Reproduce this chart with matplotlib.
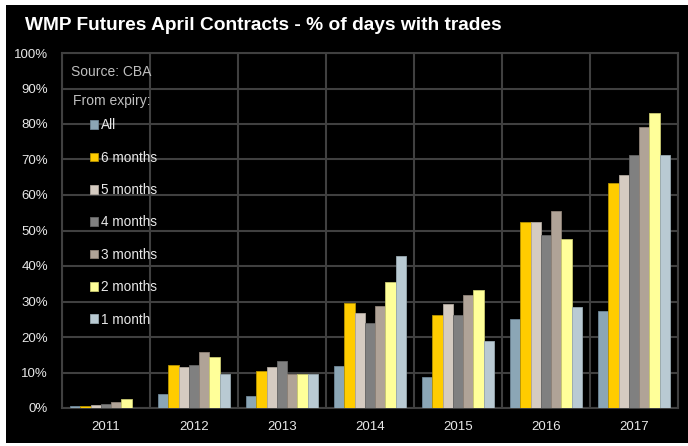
import numpy as np
import matplotlib.pyplot as plt
from matplotlib.patches import Rectangle
from matplotlib.ticker import MultipleLocator, FuncFormatter

plt.rcParams['font.family'] = ['Liberation Sans', 'DejaVu Sans']

# Data (% of days with trades)
years = ['2011', '2012', '2013', '2014', '2015', '2016', '2017']
series_names = ['All', '6 months', '5 months', '4 months', '3 months', '2 months', '1 month']
all_days = [0.5, 4.0, 3.3, 11.9, 8.8, 25.0, 27.2]
m6 = [0.7, 12.0, 10.3, 29.5, 26.1, 52.3, 63.3]
m5 = [0.8, 11.5, 11.5, 26.7, 29.4, 52.3, 65.5]
m4 = [1.2, 12.0, 13.2, 24.0, 26.1, 48.7, 71.3]
m3 = [1.6, 15.9, 9.5, 28.6, 31.7, 55.5, 79.2]
m2 = [2.4, 14.3, 9.5, 35.6, 33.2, 47.6, 83.2]
m1 = [0.0, 9.5, 9.5, 42.8, 19.0, 28.5, 71.3]

colors = ['#8BA6B6', '#FFCC00', '#D5CBC1', '#808080', '#B0A397', '#FFFF99', '#B9CAD3']
edges = ['#6F8797', '#B89400', '#B0A79E', '#666666', '#8F8378', '#C9C970', '#98A8B0']

fig = plt.figure(figsize=(6.88, 4.46), dpi=100)
fig.patch.set_facecolor('white')
# black panel behind chart
fig.patches.append(Rectangle((6 / 688, 1 - 443 / 446), 682 / 688, 438 / 446,
                             transform=fig.transFigure, facecolor='black',
                             edgecolor='none', zorder=-5))

ax = fig.add_axes([62 / 688, 1 - 408 / 446, 616 / 688, 355 / 446])
ax.set_facecolor('black')

x = np.arange(len(years))
w = 0.117
values = [all_days, m6, m5, m4, m3, m2, m1]
for i, vals in enumerate(values):
    ax.bar(x + (i - 3) * w, vals, width=w, color=colors[i], edgecolor=edges[i],
           linewidth=0.6, label=series_names[i], zorder=3)

ax.set_xlim(-0.5, len(years) - 0.5)
ax.set_ylim(0, 100)
ax.yaxis.set_major_locator(MultipleLocator(10))
ax.yaxis.set_major_formatter(FuncFormatter(lambda v, p: '%d%%' % v))
ax.set_xticks(x)
ax.set_xticklabels(years)
ax.set_xticks(np.arange(-0.5, len(years)), minor=True)
ax.grid(axis='y', color='#404040', linewidth=1.5, zorder=0)
ax.grid(axis='x', which='minor', color='#404040', linewidth=1.5, zorder=0)
ax.tick_params(axis='both', which='both', length=0, colors='#E8E8E8', labelsize=9.5)
ax.tick_params(axis='x', pad=9)
ax.tick_params(axis='y', pad=10)
for s in ax.spines.values():
    s.set_color('#404040')
    s.set_linewidth(1.5)

fig.text(25 / 688, 1 - 26 / 446, 'WMP Futures April Contracts - % of days with trades',
         color='white', fontsize=13.8, fontweight='bold', va='center', ha='left')

ax.text(71 / 688, 1 - 72 / 446, 'Source: CBA', transform=fig.transFigure,
        color='#BFBFBF', fontsize=10, va='center')
ax.text(73 / 688, 1 - 101 / 446, 'From expiry:', transform=fig.transFigure,
        color='#BFBFBF', fontsize=10, va='center')

leg = ax.legend(loc='upper left', bbox_to_anchor=(78 / 688, 1 - 106 / 446),
                bbox_transform=fig.transFigure, frameon=False, fontsize=9.8,
                handlelength=0.6, handleheight=0.6, handletextpad=0.2,
                labelspacing=1.35, labelcolor='#E8E8E8')

plt.savefig('out.png', dpi=100, facecolor=fig.get_facecolor())
